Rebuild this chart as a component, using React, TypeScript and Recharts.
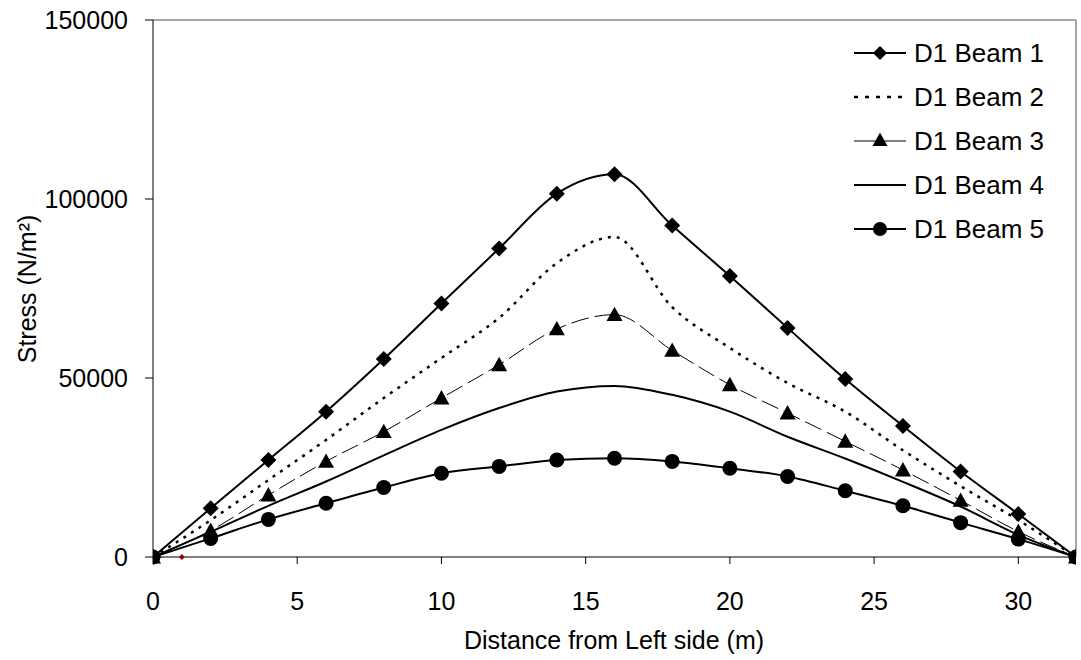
import {
  ComposedChart,
  Line,
  Scatter,
  XAxis,
  YAxis,
  Legend,
  Label,
  ReferenceLine,
} from 'recharts';

// distance along the beam (m)
const DISTANCE = [0, 2, 4, 6, 8, 10, 12, 14, 16, 18, 20, 22, 24, 26, 28, 30, 32];

// stress (N/m2)
const BEAM_1 = [0, 13600, 27100, 40600, 55300, 70800, 86200, 101500, 106900, 92600, 78500, 64000, 49700, 36600, 23900, 12000, 0];
const BEAM_2 = [0, 10300, 21500, 32700, 44400, 55600, 66800, 82100, 89400, 69800, 58400, 48600, 40600, 29800, 19800, 10300, 0];
const BEAM_3 = [0, 7400, 17300, 26700, 35000, 44400, 53700, 63700, 67700, 57700, 48100, 40200, 32300, 24300, 15800, 7100, 0];
const BEAM_4 = [0, 7000, 14300, 21100, 28400, 35500, 41600, 46200, 47800, 45300, 40600, 33600, 27500, 21000, 14100, 6200, 0];
const BEAM_5 = [0, 5200, 10500, 15000, 19400, 23400, 25300, 27100, 27600, 26700, 24800, 22500, 18500, 14300, 9600, 5000, 0];

// stray marker sitting on the axis
const STRAY_X = [1];
const STRAY_Y = [0];

const X_TICKS = [0, 5, 10, 15, 20, 25, 30];
const Y_TICKS = [0, 50000, 100000, 150000];

const NAMES = ['D1 Beam 1', 'D1 Beam 2', 'D1 Beam 3', 'D1 Beam 4', 'D1 Beam 5'];

const data = DISTANCE.map((x, i) => ({
  x,
  b1: BEAM_1[i],
  b2: BEAM_2[i],
  b3: BEAM_3[i],
  b4: BEAM_4[i],
  b5: BEAM_5[i],
}));

const stray = STRAY_X.map((x, i) => ({ x, y: STRAY_Y[i] }));

const FONT = '"Liberation Sans", Arial, sans-serif';

function diamond(cx: number, cy: number, r: number) {
  return `M${cx} ${cy - r}L${cx + r} ${cy}L${cx} ${cy + r}L${cx - r} ${cy}Z`;
}
function triangle(cx: number, cy: number, r: number) {
  return `M${cx} ${cy - r}L${cx + r} ${cy + r * 0.8}L${cx - r} ${cy + r * 0.8}Z`;
}

const DiamondDot = (p: any) => <path key={`d${p.index}`} d={diamond(p.cx, p.cy, 8)} fill="#000" />;
const TriangleDot = (p: any) => <path key={`t${p.index}`} d={triangle(p.cx, p.cy, 8)} fill="#000" />;
const CircleDot = (p: any) => <circle key={`c${p.index}`} cx={p.cx} cy={p.cy} r={7.5} fill="#000" />;

function LegendMarker({ idx }: { idx: number }) {
  const line = (extra: any) => <line x1={2} y1={10} x2={54} y2={10} stroke="#000" {...extra} />;
  return (
    <svg width={56} height={20} style={{ display: 'block' }}>
      {idx === 0 && (
        <>
          {line({ strokeWidth: 2 })}
          <path d={diamond(28, 10, 7)} fill="#000" />
        </>
      )}
      {idx === 1 && line({ strokeWidth: 2.5, strokeDasharray: '4 7' })}
      {idx === 2 && (
        <>
          {line({ strokeWidth: 1 })}
          <path d={triangle(28, 9, 7.5)} fill="#000" />
        </>
      )}
      {idx === 3 && line({ strokeWidth: 2 })}
      {idx === 4 && (
        <>
          {line({ strokeWidth: 2 })}
          <circle cx={28} cy={10} r={7} fill="#000" />
        </>
      )}
    </svg>
  );
}

function BeamLegend() {
  return (
    <div style={{ fontFamily: FONT, fontSize: 26, color: '#000' }}>
      {NAMES.map((n, i) => (
        <div key={n} style={{ display: 'flex', alignItems: 'center', height: 44 }}>
          <LegendMarker idx={i} />
          <span style={{ marginLeft: 6, lineHeight: '26px' }}>{n}</span>
        </div>
      ))}
    </div>
  );
}

export default function App() {
  return (
    <div style={{ position: 'absolute', left: 0, top: 0, width: 1081, height: 660, background: '#fff' }}>
      <ComposedChart
        width={1081}
        height={660}
        data={data}
        margin={{ top: 20, right: 5, bottom: 0, left: 0 }}
        style={{ fontFamily: FONT }}
      >
        <XAxis
          dataKey="x"
          type="number"
          domain={[0, 32]}
          ticks={X_TICKS}
          allowDataOverflow
          height={103}
          stroke="#000"
          tickSize={7}
          tickMargin={28}
          tick={{ fill: '#000', fontSize: 25 }}
        >
          <Label
            content={() => (
              <text x={614} y={649} textAnchor="middle" fontSize={25} fill="#000" fontFamily={FONT}>
                Distance from Left side (m)
              </text>
            )}
          />
        </XAxis>
        <YAxis
          type="number"
          domain={[0, 150000]}
          ticks={Y_TICKS}
          width={153}
          stroke="#000"
          tickSize={8}
          tickMargin={17}
          tick={{ fill: '#000', fontSize: 25 }}
        >
          <Label
            content={() => (
              <text
                x={27}
                y={289}
                transform="rotate(-90 27 289)"
                textAnchor="middle"
                dominantBaseline="central"
                fontSize={25}
                fill="#000"
                fontFamily={FONT}
              >
                Stress (N/m²)
              </text>
            )}
          />
        </YAxis>
        <ReferenceLine y={150000} stroke="#888" strokeWidth={1.5} ifOverflow="visible" />
        <ReferenceLine x={32} stroke="#888" strokeWidth={1.5} ifOverflow="visible" />
        <Legend
          layout="vertical"
          align="center"
          verticalAlign="middle"
          content={() => <BeamLegend />}
          wrapperStyle={{ position: 'absolute', top: 31, left: 852, width: 220 }}
        />
        <Line
          dataKey="b1"
          name={NAMES[0]}
          type="monotone"
          stroke="#000"
          strokeWidth={2}
          dot={DiamondDot}
          activeDot={false}
          isAnimationActive={false}
        />
        <Line
          dataKey="b2"
          name={NAMES[1]}
          type="monotone"
          stroke="#000"
          strokeWidth={2.5}
          strokeDasharray="3 6"
          dot={false}
          activeDot={false}
          isAnimationActive={false}
        />
        <Line
          dataKey="b3"
          name={NAMES[2]}
          type="monotone"
          stroke="#000"
          strokeWidth={1}
          strokeDasharray="18 6"
          dot={TriangleDot}
          activeDot={false}
          isAnimationActive={false}
        />
        <Line
          dataKey="b4"
          name={NAMES[3]}
          type="monotone"
          stroke="#000"
          strokeWidth={2}
          dot={false}
          activeDot={false}
          isAnimationActive={false}
        />
        <Line
          dataKey="b5"
          name={NAMES[4]}
          type="monotone"
          stroke="#000"
          strokeWidth={2}
          dot={CircleDot}
          activeDot={false}
          isAnimationActive={false}
        />
        <Scatter
          data={stray}
          dataKey="y"
          legendType="none"
          isAnimationActive={false}
          shape={(p: any) => <path d={diamond(p.cx, p.cy, 3)} fill="#a00000" />}
        />
      </ComposedChart>
    </div>
  );
}
